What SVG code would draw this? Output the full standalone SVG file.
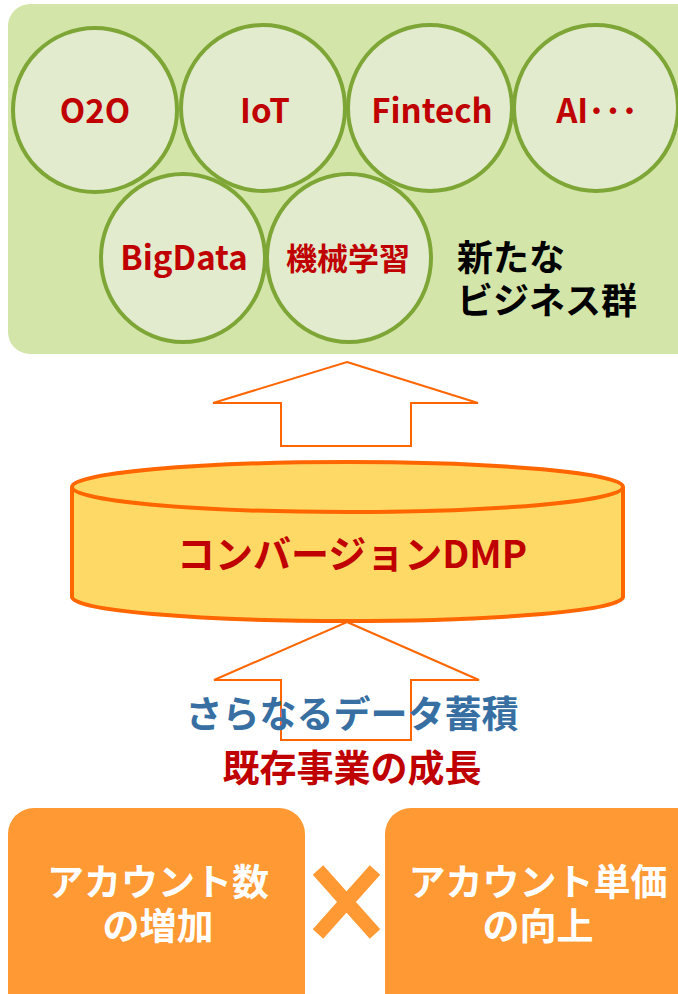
<svg xmlns="http://www.w3.org/2000/svg" width="678" height="994" viewBox="0 0 678 994">
<style>
.t{font-family:"Noto Sans CJK JP","Noto Sans",sans-serif;font-weight:bold;text-anchor:middle}
.red{fill:#c00000}
.circ{fill:#e2ebcd;stroke:#7ea637;stroke-width:4}
.arrow{fill:#ffffff;stroke:#ff6600;stroke-width:2}
.box{fill:#ff9933}
.wt{fill:#ffffff}
</style>
<rect id="bg" x="8" y="4" width="700" height="350" rx="22" fill="#d3e5a8"/>
<g id="o2o"><ellipse class="circ" cx="95" cy="110" rx="82" ry="82"/><text class="t red" x="95" y="123" font-size="33">O2O</text></g>
<g id="iot"><ellipse class="circ" cx="263" cy="108" rx="82" ry="83"/><text class="t red" x="265" y="123" font-size="33">IoT</text></g>
<g id="fintech"><ellipse class="circ" cx="430" cy="108" rx="82" ry="83"/><text class="t red" x="432" y="123" font-size="33">Fintech</text></g>
<g id="ai"><ellipse class="circ" cx="596" cy="108" rx="82" ry="83"/><text class="t red" x="597" y="123" font-size="33">AI･･･</text></g>
<g id="bigdata"><ellipse class="circ" cx="183" cy="258" rx="82" ry="84"/><text class="t red" x="184" y="270" font-size="33">BigData</text></g>
<g id="ml"><ellipse class="circ" cx="349" cy="258" rx="82" ry="84"/><text class="t red" x="348" y="270" font-size="31">機械学習</text></g>
<g id="label-new"><text class="t" x="457" y="271" font-size="36" style="text-anchor:start" fill="#000">新たな</text><text class="t" x="457" y="314" font-size="36" style="text-anchor:start" fill="#000">ビジネス群</text></g>
<g id="connectors">
<polygon class="arrow" points="347,362 478,403 411,403 411,446 281,446 281,403 213,403"/>
<polygon class="arrow" points="347,622 479,680 411,680 411,740 281,740 281,680 214,680"/>
<path d="M318,870 L375,934 M375,870 L318,934" stroke="#ff9933" stroke-width="14" fill="none"/>
</g>
<g id="dmp">
<path d="M72,487 L72,597 A275.5,24 0 0 0 623,597 L623,487" fill="#ffd966" stroke="#ff6600" stroke-width="4"/>
<ellipse cx="347.5" cy="487" rx="275.5" ry="25" fill="#ffd966" stroke="#ff6600" stroke-width="4"/>
<text class="t red" x="352" y="568" font-size="38">コンバージョンDMP</text>
</g>
<g id="label-data"><text class="t" x="352" y="728" font-size="37" fill="#376fa3">さらなるデータ蓄積</text></g>
<g id="label-growth"><text class="t red" x="352" y="782" font-size="37">既存事業の成長</text></g>
<g id="box-left"><rect class="box" x="8" y="808" width="297" height="220" rx="26"/><text class="t wt" x="158" y="896" font-size="37">アカウント数</text><text class="t wt" x="158" y="940" font-size="37">の増加</text></g>
<g id="box-right"><rect class="box" x="385" y="808" width="320" height="220" rx="26"/><text class="t wt" x="538" y="896" font-size="37">アカウント単価</text><text class="t wt" x="538" y="940" font-size="37">の向上</text></g>
</svg>
